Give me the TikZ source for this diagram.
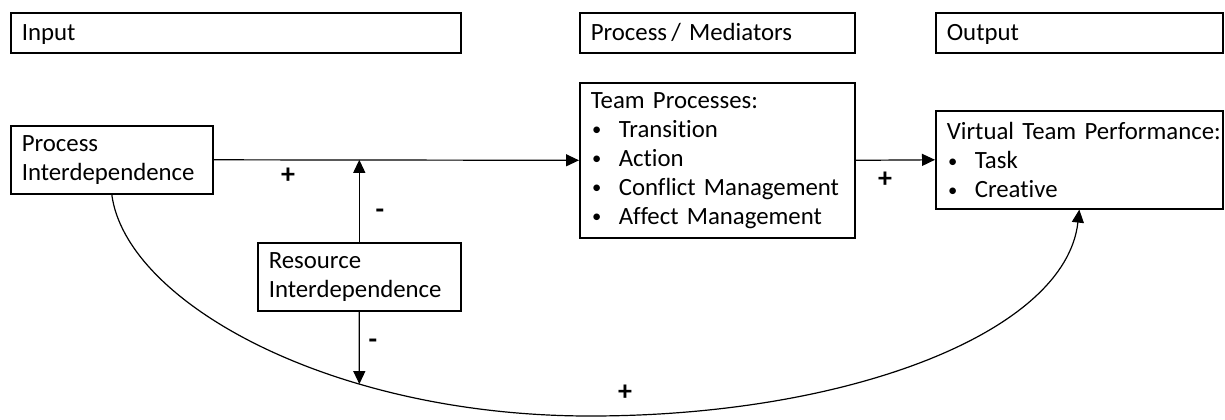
\documentclass[tikz,border=0pt]{standalone}
\usepackage{fontspec}
\setmainfont{Carlito}[Ligatures=NoCommon]
\usetikzlibrary{arrows.meta,intersections}
\newcommand\bitm[1]{\makebox[14pt][l]{\hspace{0.6pt}\raisebox{0.6pt}{\scalebox{0.75}{\textbullet}}}#1}
\newcommand\boxfont{\fontsize{12.4}{14.5}\selectfont\fontdimen2\font=0.15em\relax}
\newcommand\hstrut{\rule[-3pt]{0pt}{14pt}}
\begin{document}
\begin{tikzpicture}[x=0.5pt,y=-0.5pt,
  box/.style={draw,line width=0.8pt,anchor=north west,inner xsep=5.5pt,inner ysep=0pt,align=left,font=\boxfont},
  conn/.style={line width=0.6pt},
  arr/.style={conn,-{Triangle[length=6.5pt,width=6pt]}},
  sign/.style={font=\fontsize{14}{16}\selectfont\bfseries,inner sep=0pt}]
\useasboundingbox (0,0) rectangle (1225,419);
% header boxes
\node[box,text width=214pt,minimum height=20pt] (in) at (10,12) {\hstrut Input};
\node[box,text width=126.5pt,minimum height=20pt] (pm) at (579,12) {\hstrut Process\,/ Mediators};
\node[box,text width=132.5pt,minimum height=20pt] (out) at (935,12) {\hstrut Output};
% content boxes
\node[box,text width=90pt,minimum height=34pt] (pi) at (10,125) {Process\\Interdependence};
\node[box,text width=90.5pt,minimum height=34pt] (ri) at (257,242) {Resource\\Interdependence};
\node[box,text width=126.5pt,minimum height=77.5pt] (tp) at (579,82)
  {Team Processes:\\\bitm{Transition}\\\bitm{Action}\\\bitm{Conflict Management}\\\bitm{Affect Management}};
\node[box,text width=132.5pt,minimum height=49pt] (vtp) at (935,110)
  {\mbox{Virtual Team Performance:}\\\bitm{Task}\\\bitm{Creative}};
% connectors
\draw[arr] (pi.east) -- (tp.west);
\draw[arr] (ri.north) -- (ri.north |- pi.east);
\draw[arr] (tp.east) -- (vtp.west);
\coordinate (bot) at (590,416);
\draw[arr,name path=curve] (pi.south) .. controls +(14,107) and +(-260,0) .. (bot)
  .. controls +(260,0) and +(-13.5,122) .. (vtp.south);
\path[name path=vl] (ri.south) -- ++(0,200);
\path[name intersections={of=curve and vl,by=hit}];
\draw[arr] (ri.south) -- (hit);
% signs
\node[sign] (s1) at (288,176) {+};
\node[sign] (s2) at (380,214) {-};
\node[sign] (s3) at (373,344) {-};
\node[sign] (s4) at (885,180) {+};
\node[sign] (s5) at (625,393) {+};
\end{tikzpicture}
\end{document}
